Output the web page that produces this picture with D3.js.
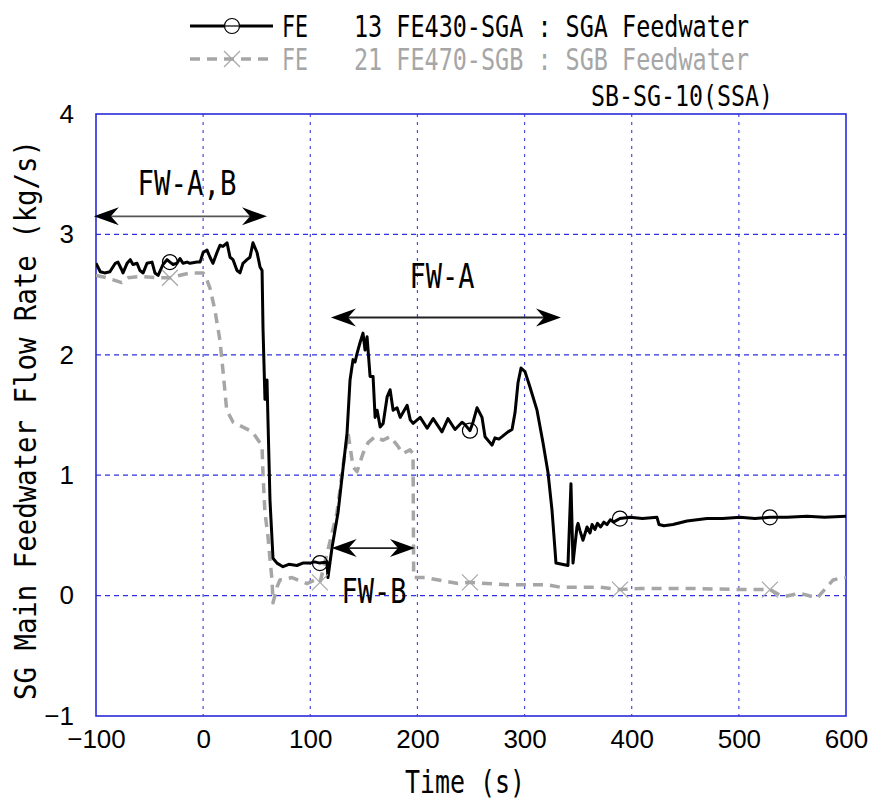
<!DOCTYPE html>
<html><head><meta charset="utf-8">
<script src="https://cdn.jsdelivr.net/npm/d3@7"></script>
<style>body{margin:0;background:#fff}</style></head>
<body>
<svg id="c" width="869" height="801"></svg>
<script>
// ---------- data ----------
const xTicks = [-100, 0, 100, 200, 300, 400, 500, 600];
const yTicks = [-1, 0, 1, 2, 3, 4];
const xTickLabels = ["\u2212100","0","100","200","300","400","500","600"];
const yTickLabels = ["\u22121","0","1","2","3","4"];

const sgaTime = [-100,-96,-92,-87,-82,-79.5,-75.7,-74.8,-71,-68,-65.5,-61.7,-59,-56,-52.4,-47.7,-45,-42,-37.5,-33.7,-31,-28,-24.4,-21.6,-18.8,-15,-12.3,-5.7,-2.9,0,3.6,6.4,9.2,12.9,15.7,18.5,22.3,25.1,27.9,31.6,34.4,37.2,40.9,43.7,46.5,50.3,53.1,55,55.9,57.7,59.6,60.5,62.4,65.2,68.9,74.5,80,87.5,93,99.6,104,109,115.6,116.5,120.3,125.9,134.3,137.1,139.9,141.8,143.6,146.4,149.2,151.1,153,155.8,158.6,160.5,162.4,165.2,168,171.7,174.5,177.3,181,183.9,190.4,193.3,196,202.6,209.1,214.7,222.9,228.5,235.1,241.6,244.4,249,251.9,255.6,260.3,263.1,269.6,272.4,276,279,284.5,288.3,291.1,293.9,296.7,300.4,305.1,311.6,317.2,321.9,325.6,328.4,329.3,340.5,343.3,345.2,348.9,349.9,351.7,354.5,358.3,361.1,363,365.7,368,371,374,376.9,380,383,389,398.4,410,423.6,425.5,430,438.5,451.6,470.3,485,501.1,515,529.1,545,563.6,580,600];
const sgaValue = [2.76,2.69,2.68,2.69,2.76,2.77,2.70,2.68,2.76,2.79,2.75,2.76,2.70,2.68,2.76,2.77,2.68,2.66,2.75,2.79,2.77,2.75,2.76,2.80,2.76,2.77,2.76,2.77,2.77,2.85,2.87,2.81,2.76,2.85,2.91,2.90,2.93,2.81,2.79,2.70,2.68,2.76,2.79,2.81,2.93,2.85,2.73,2.70,2.21,1.63,1.79,1.46,0.79,0.31,0.27,0.24,0.26,0.25,0.27,0.27,0.28,0.27,0.28,0.15,0.40,0.69,1.35,1.79,1.96,1.94,2.01,2.10,2.18,2.04,2.15,1.82,1.82,1.48,1.54,1.40,1.43,1.65,1.71,1.54,1.56,1.48,1.58,1.46,1.43,1.48,1.39,1.47,1.36,1.47,1.38,1.44,1.42,1.37,1.44,1.56,1.48,1.32,1.25,1.31,1.30,1.32,1.36,1.38,1.52,1.77,1.89,1.86,1.73,1.54,1.27,1.02,0.71,0.38,0.27,0.25,0.93,0.27,0.57,0.60,0.54,0.46,0.57,0.52,0.59,0.55,0.60,0.57,0.61,0.59,0.63,0.61,0.64,0.65,0.64,0.65,0.59,0.58,0.59,0.62,0.64,0.64,0.65,0.64,0.65,0.65,0.66,0.65,0.66];

const sgbTime = [-100,-90,-76,-70,-59,-43,-31,-12,0,2,6.5,11,15.7,18.5,22,28,46,53,55,56,57.7,60.5,62.4,64.3,65.2,68.9,71.7,82.9,96.9,104.4,109.1,116.5,124.9,130.5,135.2,137.1,139.9,143.6,149.2,153.9,160.4,167.9,174.4,181,186.5,193.1,195.9,196.5,207.1,225.7,237.8,249,264.9,283.5,302.2,320.8,333,370,389,408,455,501,529,541,557,573,582,588,597,600];
const sgbValue = [2.66,2.64,2.60,2.64,2.65,2.64,2.64,2.68,2.68,2.66,2.55,2.37,2.12,1.87,1.54,1.44,1.36,1.27,1.23,0.98,0.69,0.49,0.30,0.13,-0.06,0.07,0.13,0.15,0.10,0.13,0.11,0.38,0.69,1.07,1.35,1.24,1.07,1.03,1.18,1.27,1.32,1.29,1.32,1.25,1.18,1.21,1.18,0.15,0.15,0.12,0.10,0.11,0.10,0.09,0.09,0.09,0.07,0.07,0.05,0.06,0.06,0.05,0.05,-0.01,0.02,-0.02,0.07,0.13,0.15,0.15];

const sgaMarkerTime = [-31,109,249,389,529];
const sgaMarkerValue = [2.77,0.27,1.37,0.64,0.65];
const sgbMarkerTime = [-31,109,249,389,529];
const sgbMarkerValue = [2.64,0.11,0.11,0.05,0.05];

const legendNames = ["FE", "FE"];
const legendLabels = ["13 FE430-SGA : SGA Feedwater", "21 FE470-SGB : SGB Feedwater"];
const caseLabel = "SB-SG-10(SSA)";

const arrowLabels = ["FW-A,B", "FW-A", "FW-B"];
const arrowStart = [-102, 119.3, 120];
const arrowEnd = [59.6, 334, 197.7];
const arrowLevel = [3.15, 2.31, 0.395];

// ---------- layout ----------
const svg = d3.select("#c");
const L = 96, R = 846, T = 114, B = 716;
const x = d3.scaleLinear().domain([-100, 600]).range([L, R]);
const y = d3.scaleLinear().domain([-1, 4]).range([B, T]);
const font = "'Liberation Sans', Arial, sans-serif";
const mono = "'DejaVu Sans Mono', 'Liberation Mono', monospace";

// grid
const g = svg.append("g");
g.selectAll(".vg").data(xTicks.filter(d => d > -100 && d < 600)).join("line")
  .attr("x1", d => x(d)).attr("x2", d => x(d)).attr("y1", T).attr("y2", B)
  .attr("stroke", "#4a4ae6").attr("stroke-width", 1.2).attr("stroke-dasharray", "3,5");
g.selectAll(".hg").data(yTicks.filter(d => d > -1 && d < 4)).join("line")
  .attr("x1", L).attr("x2", R).attr("y1", d => y(d)).attr("y2", d => y(d))
  .attr("stroke", "#3030e0").attr("stroke-width", 1.2).attr("stroke-dasharray", "5,4");
g.append("rect").attr("x", L).attr("y", T).attr("width", R - L).attr("height", B - T)
  .attr("fill", "none").attr("stroke", "#2a2ad8").attr("stroke-width", 1.6);

// axes
const xa = svg.append("g").attr("transform", `translate(0,${B})`)
  .call(d3.axisBottom(x).tickValues(xTicks).tickSize(0).tickPadding(14)
    .tickFormat((d, i) => xTickLabels[i]));
xa.select(".domain").remove();
xa.selectAll("text").attr("font-family", font).attr("font-size", 26).attr("fill", "#000");

const ya = svg.append("g").attr("transform", `translate(${L},0)`)
  .call(d3.axisLeft(y).tickValues(yTicks).tickSize(0).tickPadding(22)
    .tickFormat((d, i) => yTickLabels[i]));
ya.select(".domain").remove();
ya.selectAll("text").attr("font-family", font).attr("font-size", 26).attr("fill", "#000");

// axis titles
svg.append("text").attr("x", 465).attr("y", 793).attr("text-anchor", "middle")
  .attr("font-family", mono).attr("font-size", 32)
  .attr("textLength", 120).attr("lengthAdjust", "spacingAndGlyphs").text("Time (s)");
svg.append("text").attr("transform", "translate(36,420) rotate(-90)").attr("text-anchor", "middle")
  .attr("font-family", mono).attr("font-size", 31)
  .attr("textLength", 560).attr("lengthAdjust", "spacingAndGlyphs")
  .text("SG Main Feedwater Flow Rate (kg/s)");

// clip
svg.append("clipPath").attr("id", "clip").append("rect")
  .attr("x", L).attr("y", T).attr("width", R - L).attr("height", B - T);

const line = d3.line().x(d => x(d[0])).y(d => y(d[1]));
const sgb = sgbTime.map((t, i) => [t, sgbValue[i]]);
const sga = sgaTime.map((t, i) => [t, sgaValue[i]]);

const plot = svg.append("g").attr("clip-path", "url(#clip)");
plot.append("path").datum(sgb).attr("d", line).attr("fill", "none")
  .attr("stroke", "#a6a6a6").attr("stroke-width", 3.5).attr("stroke-dasharray", "10,7")
  .attr("stroke-linejoin", "round");
plot.append("path").datum(sga).attr("d", line).attr("fill", "none")
  .attr("stroke", "#000").attr("stroke-width", 3).attr("stroke-linejoin", "round");

// markers
function cross(sel, cx, cy, s, col) {
  sel.append("path").attr("d", `M${cx - s},${cy - s}L${cx + s},${cy + s}M${cx - s},${cy + s}L${cx + s},${cy - s}`)
    .attr("stroke", col).attr("stroke-width", 1.2).attr("fill", "none");
}
sgbMarkerTime.forEach((t, i) => cross(plot, x(t), y(sgbMarkerValue[i]), 8, "#a6a6a6"));
plot.selectAll(".cm").data(sgaMarkerTime).join("circle")
  .attr("cx", d => x(d)).attr("cy", (d, i) => y(sgaMarkerValue[i])).attr("r", 7.5)
  .attr("fill", "none").attr("stroke", "#000").attr("stroke-width", 1.2);

// arrows
function head(sel, tipX, tipY, dir, col) {
  const l = 25, w = 9, n = 17;
  const p = `M${tipX},${tipY} L${tipX + dir * l},${tipY - w} L${tipX + dir * n},${tipY} L${tipX + dir * l},${tipY + w} Z`;
  sel.append("path").attr("d", p).attr("fill", col);
}
const arrowColors = ["#555", "#222", "#222"];
arrowLabels.forEach((lab, i) => {
  const x1 = x(arrowStart[i]), x2 = x(arrowEnd[i]), yy = y(arrowLevel[i]);
  svg.append("line").attr("x1", x1 + 10).attr("x2", x2 - 10).attr("y1", yy).attr("y2", yy)
    .attr("stroke", arrowColors[i]).attr("stroke-width", 1.8);
  head(svg, x1, yy, 1, "#000");
  head(svg, x2, yy, -1, "#000");
});
const labelPos = [[187, 195, 99], [442, 288, 65], [374, 603, 65]];
arrowLabels.forEach((lab, i) => {
  svg.append("text").attr("x", labelPos[i][0]).attr("y", labelPos[i][1]).attr("text-anchor", "middle")
    .attr("font-family", mono).attr("font-size", 33)
    .attr("textLength", labelPos[i][2]).attr("lengthAdjust", "spacingAndGlyphs").text(lab);
});

// legend
const lg = svg.append("g");
lg.append("line").attr("x1", 190).attr("x2", 273).attr("y1", 26).attr("y2", 26)
  .attr("stroke", "#000").attr("stroke-width", 3);
lg.append("circle").attr("cx", 232).attr("cy", 26).attr("r", 7.5)
  .attr("fill", "#fff").attr("stroke", "#000").attr("stroke-width", 1.2);
lg.append("line").attr("x1", 232 - 7.5).attr("x2", 232 + 7.5).attr("y1", 26).attr("y2", 26)
  .attr("stroke", "#000").attr("stroke-width", 1.2);
lg.append("line").attr("x1", 190).attr("x2", 273).attr("y1", 59).attr("y2", 59)
  .attr("stroke", "#a6a6a6").attr("stroke-width", 3.5).attr("stroke-dasharray", "10,7");
cross(lg, 232, 59, 8, "#a6a6a6");
const legCol = ["#000", "#a6a6a6"];
const legY = [37, 70];
legendNames.forEach((nm, i) => {
  lg.append("text").attr("x", 282).attr("y", legY[i]).attr("font-family", mono).attr("font-size", 30)
    .attr("fill", legCol[i]).attr("textLength", 26).attr("lengthAdjust", "spacingAndGlyphs").text(nm);
  lg.append("text").attr("x", 354).attr("y", legY[i]).attr("font-family", mono).attr("font-size", 30)
    .attr("fill", legCol[i]).attr("textLength", 395).attr("lengthAdjust", "spacingAndGlyphs").text(legendLabels[i]);
});
svg.append("text").attr("x", 591).attr("y", 106).attr("font-family", mono).attr("font-size", 28)
  .attr("textLength", 182).attr("lengthAdjust", "spacingAndGlyphs").text(caseLabel);
</script>
</body></html>
